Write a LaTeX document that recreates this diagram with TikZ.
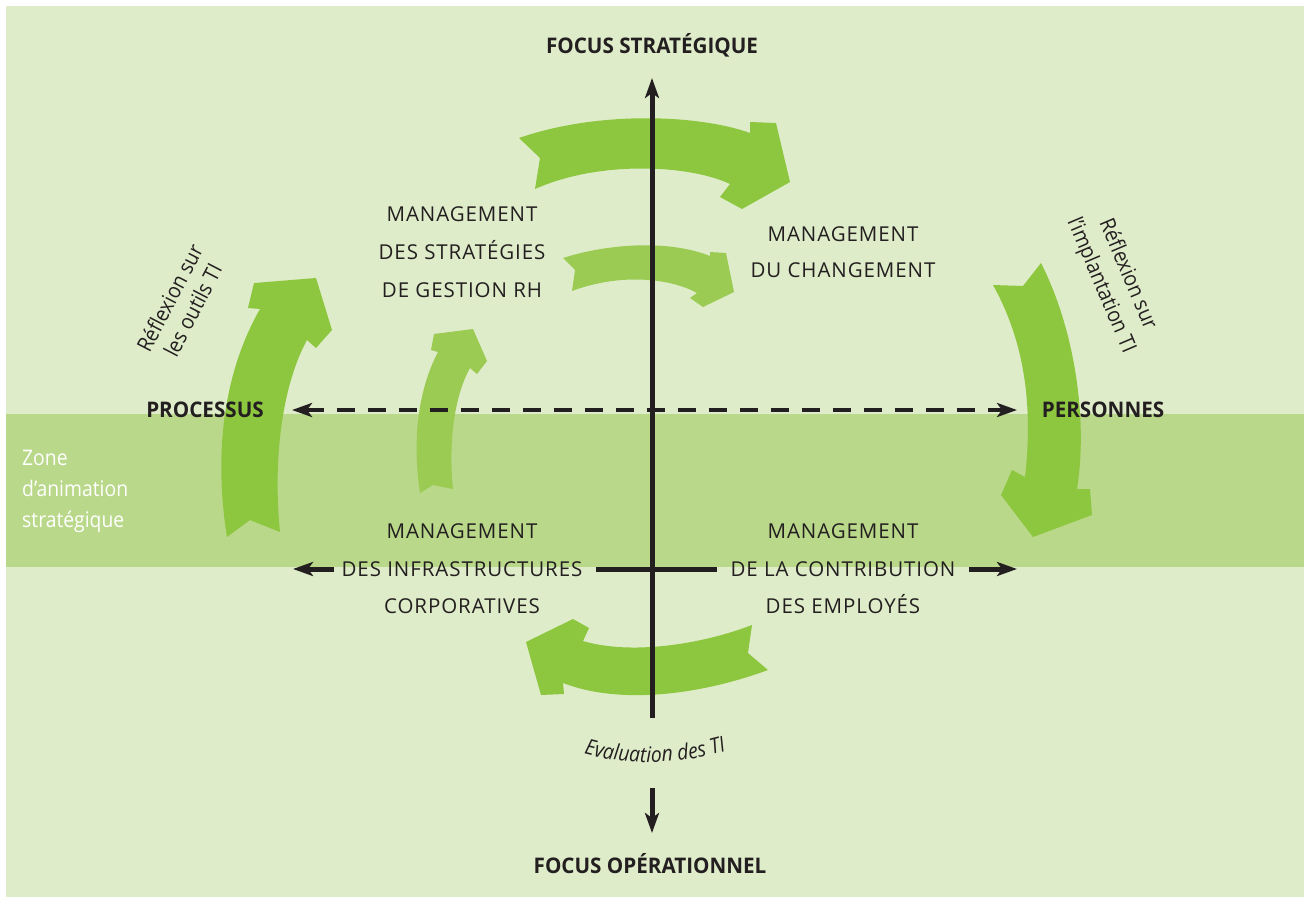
\documentclass[tikz,border=0pt]{standalone}
\usepackage{fontspec}
\setmainfont{Open Sans}
\newfontfamily\lblfont[FakeStretch=0.9]{Open Sans}
\newfontfamily\boldfont[FakeStretch=0.96]{Open Sans}
\newfontfamily\mgfont[LetterSpace=4.5]{Open Sans}
\usetikzlibrary{arrows.meta,decorations.text}
\definecolor{bgpale}{HTML}{DFECC9}
\definecolor{bandgreen}{HTML}{B9D88A}
\definecolor{bigarrow}{HTML}{8DC63F}
\definecolor{smallarrow}{HTML}{9BCB52}
\definecolor{ink}{HTML}{231F20}
\tikzset{
  boldlbl/.style={font=\boldfont\bfseries\fontsize{21.5}{24}\selectfont, text=ink,
    text height=15.4pt, text depth=0pt, inner sep=0pt},
  mgmt/.style={font=\mgfont\fontsize{20.5}{24}\selectfont, text=ink,
    text height=14.6pt, text depth=0pt, inner sep=0pt},
  sidelbl/.style={font=\lblfont\fontsize{21.5}{26}\selectfont, text=ink, align=center, inner sep=0pt},
  axis/.style={draw=ink, line width=5pt},
  dashaxis/.style={draw=ink, line width=4pt, dash pattern=on 18pt off 13pt},
  tip/.style={-{Stealth[length=20pt,width=14pt,inset=5pt]}},
  bothtips/.style={{Stealth[length=20pt,width=14pt,inset=5pt]}-{Stealth[length=20pt,width=14pt,inset=5pt]}}
}
\begin{document}
\begin{tikzpicture}[x=1pt,y=-1pt]
\useasboundingbox (0,0) rectangle (1304,897);
% background and the strategic animation band
\fill[bgpale] (6,6) rectangle (1304,897);
\fill[bandgreen] (6,413.5) rectangle (1304,567);

% curved arrows
% top, large
\fill[bigarrow] (519,138) .. controls (600,110) and (700,115) .. (750,133) -- (750,122) -- (776,123)
  -- (790,182) -- (742,209) -- (720,197) -- (730,184)
  .. controls (690,165) and (600,160) .. (535,189) -- (540,158) -- cycle;
% top, small
\fill[smallarrow] (563,258) .. controls (610,243) and (670,240) .. (710,256) -- (710,252) -- (726,253)
  -- (734,292) -- (703,307) -- (690,298) -- (697,293)
  .. controls (670,278) and (620,273) .. (572,291) -- (575,270) -- cycle;
% left, large
\fill[bigarrow] (227,537) .. controls (213,450) and (225,370) .. (260,309) -- (248,308) -- (254,283)
  -- (316,278) -- (332,330) -- (316,348) -- (307,340)
  .. controls (285,380) and (272,450) .. (280,532) -- (250,520) -- cycle;
% left, small
\fill[smallarrow] (420,493) .. controls (412,440) and (418,390) .. (438,352) -- (431,350) -- (434,334)
  -- (473,329) -- (487,361) -- (477,374) -- (470,368)
  .. controls (455,395) and (448,440) .. (453,489) -- (433,485) -- cycle;
% right, large
\fill[bigarrow] (993,285) .. controls (1018,330) and (1035,390) .. (1025,477) -- (1012,470) -- (1001,495)
  -- (1033,537) -- (1092,515) -- (1090,489) -- (1077,489)
  .. controls (1088,420) and (1075,330) .. (1041,263) -- (1023,286) -- cycle;
% bottom, large
\fill[bigarrow] (752,625) .. controls (700,645) and (630,655) .. (583,641) -- (589,628) -- (573,619)
  -- (526,642) -- (541,695) -- (564,694) -- (563,683)
  .. controls (620,705) and (700,695) .. (768,670) -- (748,653) -- cycle;

% labels
\node[boldlbl] (fst) at (652,46) {FOCUS STRATÉGIQUE};
\node[boldlbl] (fop) at (650,866) {FOCUS OPÉRATIONNEL};
\node[boldlbl] (proc) at (205,410) {PROCESSUS};
\node[boldlbl] (pers) at (1103,410) {PERSONNES};

\node[mgmt] (tl1) at (462,214) {MANAGEMENT};
\node[mgmt] (tl2) at (462,252) {DES STRATÉGIES};
\node[mgmt] (tl3) at (462,290) {DE GESTION RH};
\node[mgmt] (tr1) at (843,234) {MANAGEMENT};
\node[mgmt] (tr2) at (843,270) {DU CHANGEMENT};
\node[mgmt] (bl1) at (462,531) {MANAGEMENT};
\node[mgmt] (bl2) at (462,569) {DES INFRASTRUCTURES};
\node[mgmt] (bl3) at (462,606) {CORPORATIVES};
\node[mgmt] (br1) at (843,531) {MANAGEMENT};
\node[mgmt] (br2) at (843,569) {DE LA CONTRIBUTION};
\node[mgmt] (br3) at (843,606) {DES EMPLOYÉS};

\node[sidelbl, rotate=62.5] (outils) at (181,304) {Réflexion sur\\les outils TI};
\node[sidelbl, rotate=-67, font=\lblfont\fontsize{21.5}{29}\selectfont] (implant) at (1114,280) {Réflexion sur\\l’implantation TI};

\node[anchor=north west, align=left, inner sep=0pt, text=white,
  font=\lblfont\fontsize{21.5}{31}\selectfont] (zone) at (22,450) {Zone\\d’animation\\stratégique};

\path[decorate, decoration={text along path, text align=center, text color=ink,
  text={|\lblfont\itshape\fontsize{21.5}{24}\selectfont|Evaluation des TI}}]
  (578,752) .. controls (620,766) and (684,766) .. (732,749);

% axes
\coordinate (vtop) at (652,78);
\coordinate (vbot) at (652,718);
\coordinate (vlow) at (652,788);
\coordinate (vlowtip) at (652,833);
\coordinate (hleft) at (292,410);
\coordinate (hright) at (1017,410);
\coordinate (lleft) at (293,569);
\coordinate (lright) at (1017,569);

\draw[axis, tip] (vbot) -- (vtop);
\draw[axis, tip] (vlow) -- (vlowtip);
\draw[dashaxis, bothtips] (hleft) -- (hright);
\draw[axis, tip, shorten <=7pt] (bl2.west) -- (lleft);
\draw[axis, shorten <=13pt, shorten >=13pt] (bl2.east) -- (br2.west);
\draw[axis, tip, shorten <=13pt] (br2.east) -- (lright);
\end{tikzpicture}
\end{document}
